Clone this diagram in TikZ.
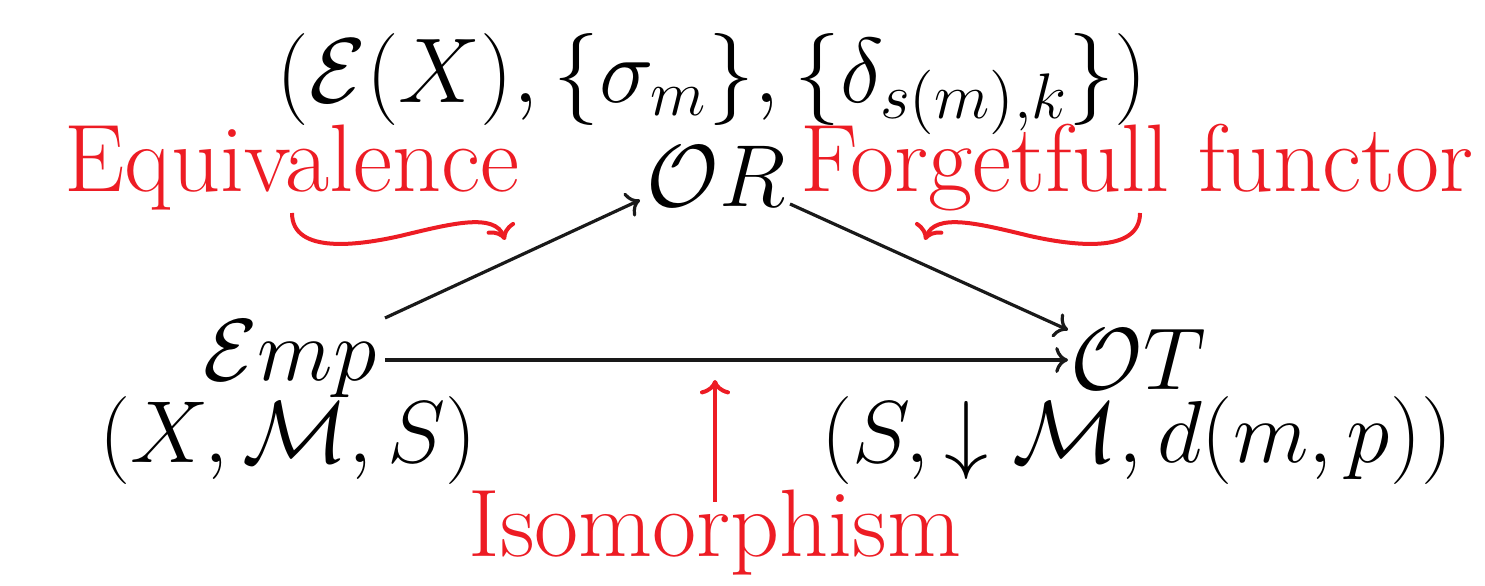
\RequirePackage{fix-cm}
\documentclass[tikz,border=0pt]{standalone}
\usepackage{amsmath,amssymb}
\usetikzlibrary{arrows.meta}
\definecolor{redc}{RGB}{237,28,36}
\tikzset{
  mlabel/.style={inner sep=0pt, font=\fontsize{22}{26}\selectfont},
  rlabel/.style={inner sep=0pt, text=redc, font=\fontsize{24}{28}\selectfont},
  blk/.style={draw=black!90, line width=0.8pt, -{Computer Modern Rightarrow[length=3.2pt,width=6.5pt]}},
  rarr/.style={draw=redc, line width=1pt, -{Computer Modern Rightarrow[length=3.6pt,width=7.5pt]}},
}
\begin{document}
\begin{tikzpicture}[x=0.25pt,y=-0.25pt]
\useasboundingbox (0,0) rectangle (1485,586);
\node[mlabel, font=\fontsize{23}{26}\selectfont] (top) at (712,84) {$(\mathcal{E}(X),\{\sigma_m\},\{\delta_{s(m),k}\})$};
\node[mlabel] (OR) at (716,176) {$\mathcal{O}R$};
\node[mlabel] (Emp) at (290,359) {$\mathcal{E}mp$};
\node[mlabel] (OT) at (1138,359) {$\mathcal{O}T$};
\node[mlabel] (XMS) at (288,441) {$(X,\mathcal{M},S)$};
\node[mlabel] (SMd) at (1137,441) {$(S,\downarrow\mathcal{M},d(m,p))$};
\node[rlabel] (eq) at (292,168) {Equivalence};
\node[rlabel] (ff) at (1137,168) {Forgetfull functor};
\node[rlabel] (iso) at (715,533) {Isomorphism};
\coordinate (a1) at (385,318);
\coordinate (a2) at (640,200);
\draw[blk] (a1) -- (a2);
\coordinate (b1) at (790,204);
\coordinate (b2) at (1068,330);
\draw[blk] (b1) -- (b2);
\coordinate (c1) at (385,360);
\coordinate (c2) at (1068,360);
\draw[blk] (c1) -- (c2);
\coordinate (e1) at (292,213);
\coordinate (e2) at (505,240);
\draw[rarr] (e1) .. controls (292,255) and (360,245) .. (400,236) .. controls (450,224) and (495,212) .. (e2);
\coordinate (f1) at (1140,213);
\coordinate (f2) at (925,240);
\draw[rarr] (f1) .. controls (1140,255) and (1070,245) .. (1030,236) .. controls (980,224) and (935,212) .. (f2);
\coordinate (i1) at (715,502);
\coordinate (i2) at (715,380);
\draw[rarr] (i1) -- (i2);
\end{tikzpicture}
\end{document}
